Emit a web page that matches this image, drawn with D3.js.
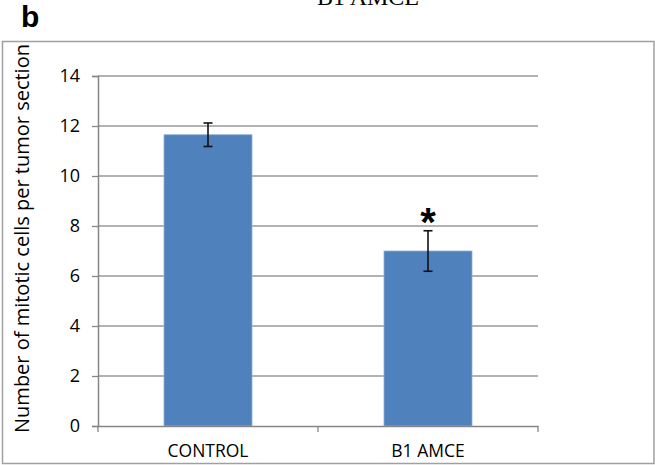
<!DOCTYPE html>
<html><head><meta charset="utf-8">
<script src="https://cdn.jsdelivr.net/npm/d3@7"></script>
<style>html,body{margin:0;padding:0;background:#fff;}svg{display:block;}</style>
</head><body>
<script>
const categories = ["CONTROL", "B1 AMCE"];
const values = [11.65, 7.0];
const errors = [0.47, 0.81];
const significance = ["", "*"];
const yTicks = [0, 2, 4, 6, 8, 10, 12, 14];
const yLabel = "Number of mitotic cells per tumor section";
const panelLabel = "b";
const topTitle = "B1 AMCE";

const W = 655, H = 465;
const svg = d3.select("body").append("svg").attr("width", W).attr("height", H);
const font = "'Open Sans', sans-serif";

// panel frame
svg.append("rect").attr("x", 2.5).attr("y", 41.5).attr("width", 651.5).attr("height", 422)
  .attr("fill", "none").attr("stroke", "#a0a0a0").attr("stroke-width", 1.5);

// cut-off title at top
svg.append("text").attr("x", 368).attr("y", 5).attr("text-anchor", "middle")
  .attr("font-family", "'Liberation Serif', serif").attr("font-size", 24).attr("fill", "#000").text(topTitle);

svg.append("text").attr("x", 21).attr("y", 27).attr("font-family", "'Liberation Sans', Arial, sans-serif")
  .attr("font-weight", "bold").attr("font-size", 30).attr("fill", "#000").text(panelLabel);

const x0 = 98, x1 = 538, yTop = 76, yBot = 426;
const x = d3.scaleBand().domain(categories).range([x0, x1]).paddingInner(0.6).paddingOuter(0.3);
const y = d3.scaleLinear().domain([0, 14]).range([yBot, yTop]);

// gridlines
svg.append("g").selectAll("line").data(yTicks.filter(t => t > 0)).join("line")
  .attr("x1", x0).attr("x2", x1).attr("y1", d => y(d)).attr("y2", d => y(d))
  .attr("stroke", "#989898").attr("stroke-width", 1.3);

// y axis
const yAxis = svg.append("g").attr("transform", `translate(${x0},0)`)
  .call(d3.axisLeft(y).tickValues(yTicks).tickSize(6).tickPadding(12).tickFormat(d3.format("d")));
yAxis.select(".domain").attr("stroke", "#868686").attr("stroke-width", 1.5);
yAxis.selectAll(".tick line").attr("stroke", "#868686").attr("stroke-width", 1.3);
yAxis.selectAll("text").attr("font-family", font).attr("font-size", 18).attr("fill", "#000");

// bars
svg.append("g").selectAll("rect").data(categories).join("rect")
  .attr("x", d => x(d)).attr("width", x.bandwidth())
  .attr("y", (d, i) => y(values[i])).attr("height", (d, i) => y(0) - y(values[i]))
  .attr("fill", "#4f81bd").attr("stroke", "#8fb0d8").attr("stroke-width", 0.8);

// x axis
const xb = d3.scaleBand().domain(categories).range([x0, x1]);
const xAxisG = svg.append("g").attr("transform", `translate(0,${yBot})`)
  .call(d3.axisBottom(xb).tickSize(0).tickPadding(19));
xAxisG.select(".domain").attr("stroke", "#868686").attr("stroke-width", 1.5);
xAxisG.selectAll("text").attr("font-family", font).attr("font-size", 17.5).attr("fill", "#000");
svg.append("g").selectAll("line").data([x0, (x0 + x1) / 2, x1]).join("line")
  .attr("x1", d => d).attr("x2", d => d).attr("y1", yBot).attr("y2", yBot + 6)
  .attr("stroke", "#868686").attr("stroke-width", 1.3);

// error bars
const eb = svg.append("g").attr("stroke", "#111").attr("stroke-width", 1.6);
categories.forEach((c, i) => {
  const cx = x(c) + x.bandwidth() / 2;
  const hi = y(values[i] + errors[i]), lo = y(values[i] - errors[i]);
  eb.append("line").attr("x1", cx).attr("x2", cx).attr("y1", hi).attr("y2", lo);
  eb.append("line").attr("x1", cx - 4.5).attr("x2", cx + 4.5).attr("y1", hi).attr("y2", hi);
  eb.append("line").attr("x1", cx - 4.5).attr("x2", cx + 4.5).attr("y1", lo).attr("y2", lo);
  if (significance[i]) {
    svg.append("text").attr("x", cx).attr("y", hi + 5).attr("text-anchor", "middle")
      .attr("font-family", "'Liberation Sans', Arial, sans-serif").attr("font-weight", "bold")
      .attr("font-size", 40).attr("fill", "#000").text(significance[i]);
  }
});

// y label
svg.append("text").attr("transform", `translate(29,${(45 + 432) / 2}) rotate(-90)`)
  .attr("text-anchor", "middle").attr("font-family", font).attr("font-size", 20).attr("fill", "#000")
  .text(yLabel);
</script>
</body></html>
